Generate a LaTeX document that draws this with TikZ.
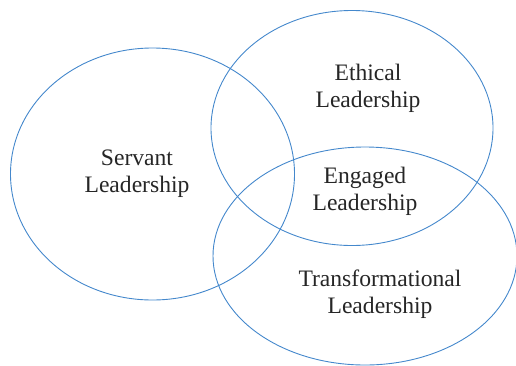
\documentclass[tikz,border=0pt]{standalone}
\usepackage{fontspec}
\setmainfont{Liberation Serif}
\definecolor{vennblue}{RGB}{68,136,204}
\tikzset{
  ring/.style={draw=vennblue, line width=0.9pt},
  label/.style={align=center, font=\fontsize{23.6}{27}\selectfont, text=black!85, inner sep=0pt}
}
\begin{document}
\begin{tikzpicture}[x=1pt, y=-1pt]
    \useasboundingbox (0, 0) rectangle (516, 365);

    \coordinate (cservant) at (152.5, 174);
    \coordinate (cethical) at (352, 128);
    \coordinate (ctrans) at (365, 256);

    \draw[ring] (cservant) ellipse (142pt and 126pt);
    \draw[ring] (cethical) ellipse (141pt and 117.5pt);
    \draw[ring] (ctrans) ellipse (152pt and 109pt);

    \node[label] (servant) at (137, 173.5) {Servant\\Leadership};
    \node[label] (ethical) at (368, 88) {Ethical\\Leadership};
    \node[label] (engaged) at (365, 191) {Engaged\\Leadership};
    \node[label] (trans) at (380, 294) {Transformational\\Leadership};
  \end{tikzpicture}
\end{document}
